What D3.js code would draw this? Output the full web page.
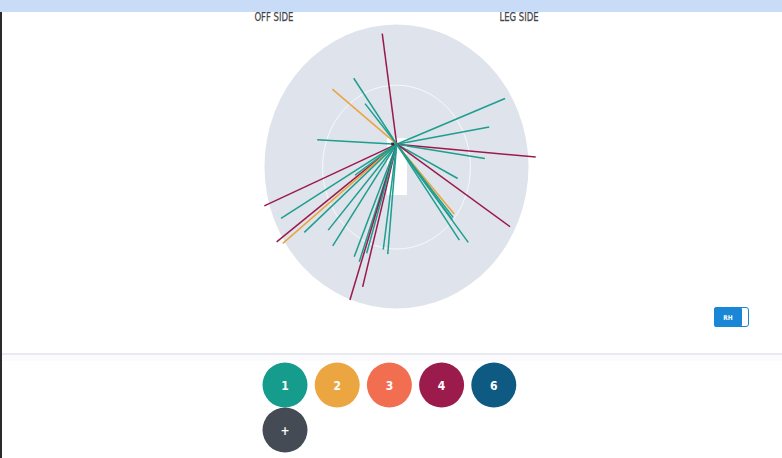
<!DOCTYPE html>
<html>
<head>
<meta charset="utf-8">
<script src="https://cdn.jsdelivr.net/npm/d3@7"></script>
<style>
  body { margin: 0; background: #fff; overflow: hidden; }
  svg { display: block; }
</style>
</head>
<body>
<script>
// shots: angle in degrees clockwise from straight up, distance in metres from the striker
var shotRuns   = [4, 1, 2, 1, 1, 1, 1, 4, 1, 1, 2, 1, 1, 4, 1, 1, 4, 1, 4, 2, 1, 1, 1, 1, 1, 4, 4, 1, 1, 1, 1];
var shotAngles = [352, 325, 308.5, 320, 273, 68.6, 80.2, 94.9, 98.6, 117.6, 138.5, 140.3, 141.5, 124.1, 144.9, 141.9,
                  246.6, 239.2, 232.9, 231, 228.4, 220.6, 214.1, 202.1, 198.9, 197.9, 194.4, 196.5, 187.8, 185, 235.3];
var shotDists  = [55, 39.7, 43.6, 26.1, 42.2, 61.7, 49.8, 74, 47.3, 36.5, 46, 46.9, 47.5, 72.6, 57.8, 61.5,
                  76.5, 71.4, 79.8, 77.7, 65.5, 55.8, 60.5, 59.9, 61.3, 80.7, 72.6, 56.1, 52.4, 54.4, 26.9];

var runTypes  = ['1', '2', '3', '4', '6', '+'];
var runColors = ['#159c8c', '#eba641', '#f26e51', '#9b1b4d', '#0f5a82', '#454b55'];
var lineColors = {1: '#1d9e8e', 2: '#e9a43f', 3: '#f26e51', 4: '#9b1a4e', 6: '#0f5a82'};

var sideLabels = ['OFF SIDE', 'LEG SIDE'];

var fieldRadius = 70;
var innerRadius = 40;
var striker = {x: 0.1, y: -11};
var pitch = {x: -5.05, y: -14, w: 10.6, h: 28.1};

var width = 782, height = 458;

var svg = d3.select('body').append('svg').attr('width', width).attr('height', height);

// field scales (the field is drawn a little taller than wide)
var x = d3.scaleLinear().domain([-fieldRadius, fieldRadius]).range([264.5, 528.5]);
var y = d3.scaleLinear().domain([-fieldRadius, fieldRadius]).range([24.5, 308.5]);

function rx(r) { return x(r) - x(0); }
function ry(r) { return y(r) - y(0); }

// page chrome
svg.append('rect').attr('x', 0).attr('y', 12).attr('width', 2).attr('height', height).attr('fill', '#2b2b2b');
svg.append('rect').attr('x', 2).attr('y', 354).attr('width', width).attr('height', 7).attr('fill', '#fbfbfd');
svg.append('line').attr('x1', 2).attr('x2', width).attr('y1', 354).attr('y2', 354)
    .attr('stroke', '#e2e5ec').attr('stroke-width', 1.5);

// side labels
svg.selectAll('text.side')
    .data(sideLabels)
    .enter()
    .append('text')
    .attr('class', 'side')
    .attr('x', function (d, i) { return x(i == 0 ? -65 : 65); })
    .attr('y', 20.5)
    .attr('text-anchor', 'middle')
    .attr('font-family', 'DejaVu Sans Condensed, DejaVu Sans, sans-serif')
    .attr('font-size', 12.5)
    .attr('textLength', 39)
    .attr('lengthAdjust', 'spacingAndGlyphs')
    .attr('fill', '#3f444d')
    .attr('stroke', '#3f444d')
    .attr('stroke-width', 0.25)
    .text(function (d) { return d; });

// field
var field = svg.append('g');
field.append('ellipse')
    .attr('cx', x(0)).attr('cy', y(0))
    .attr('rx', rx(fieldRadius)).attr('ry', ry(fieldRadius))
    .attr('fill', '#dfe3eb');
field.append('ellipse')
    .attr('cx', x(0)).attr('cy', y(0.3))
    .attr('rx', rx(innerRadius - 0.8)).attr('ry', ry(innerRadius + 0.4))
    .attr('fill', 'none')
    .attr('stroke', '#ffffff').attr('stroke-opacity', 0.75).attr('stroke-width', 1);
field.append('rect')
    .attr('x', x(pitch.x)).attr('y', y(pitch.y))
    .attr('width', rx(pitch.w)).attr('height', ry(pitch.h))
    .attr('fill', '#ffffff');

// shots
var shots = d3.range(shotRuns.length).map(function (i) {
    var a = shotAngles[i] * Math.PI / 180;
    return {
        runs: shotRuns[i],
        ex: striker.x + Math.sin(a) * shotDists[i],
        ey: striker.y - Math.cos(a) * shotDists[i]
    };
});

field.selectAll('line.shot')
    .data(shots)
    .enter()
    .append('line')
    .attr('class', 'shot')
    .attr('x1', x(striker.x))
    .attr('y1', y(striker.y))
    .attr('x2', function (d) { return x(d.ex); })
    .attr('y2', function (d) { return y(d.ey); })
    .attr('stroke', function (d) { return lineColors[d.runs]; })
    .attr('stroke-width', 1.5);

// stumps marker
field.append('rect')
    .attr('x', x(striker.x - 2.9)).attr('y', y(striker.y - 0.8))
    .attr('width', 3).attr('height', 3)
    .attr('fill', '#2c2f36');

// top band
svg.append('rect').attr('x', 0).attr('y', 0).attr('width', width).attr('height', 12).attr('fill', '#c9dcf7');

// RH / LH toggle
var toggle = svg.append('g').attr('transform', 'translate(714,307)');
toggle.append('rect').attr('x', 0.5).attr('y', 0.5).attr('width', 34).attr('height', 19).attr('rx', 2.5)
    .attr('fill', '#ffffff').attr('stroke', '#1a87d6').attr('stroke-width', 1);
toggle.append('rect').attr('x', 0).attr('y', 0).attr('width', 28).attr('height', 20).attr('rx', 2.5)
    .attr('fill', '#1a87d6');
toggle.append('text').attr('x', 14).attr('y', 12.5).attr('text-anchor', 'middle')
    .attr('font-family', 'DejaVu Sans Condensed, DejaVu Sans, sans-serif')
    .attr('font-size', 6.5).attr('font-weight', 'bold').attr('fill', '#ffffff').text('RH');

// run filter buttons
var buttons = svg.selectAll('g.run')
    .data(runTypes)
    .enter()
    .append('g')
    .attr('class', 'run')
    .attr('transform', function (d, i) {
        return 'translate(' + (285 + (i % 5) * 52.2) + ',' + (385 + Math.floor(i / 5) * 45) + ')';
    });

buttons.append('circle')
    .attr('r', 22.5)
    .attr('fill', function (d, i) { return runColors[i]; });

buttons.append('text')
    .attr('y', 4.5)
    .attr('text-anchor', 'middle')
    .attr('font-family', 'DejaVu Sans Condensed, DejaVu Sans, sans-serif')
    .attr('font-size', 12)
    .attr('font-weight', 'bold')
    .attr('fill', '#ffffff')
    .text(function (d) { return d; });
</script>
</body>
</html>
